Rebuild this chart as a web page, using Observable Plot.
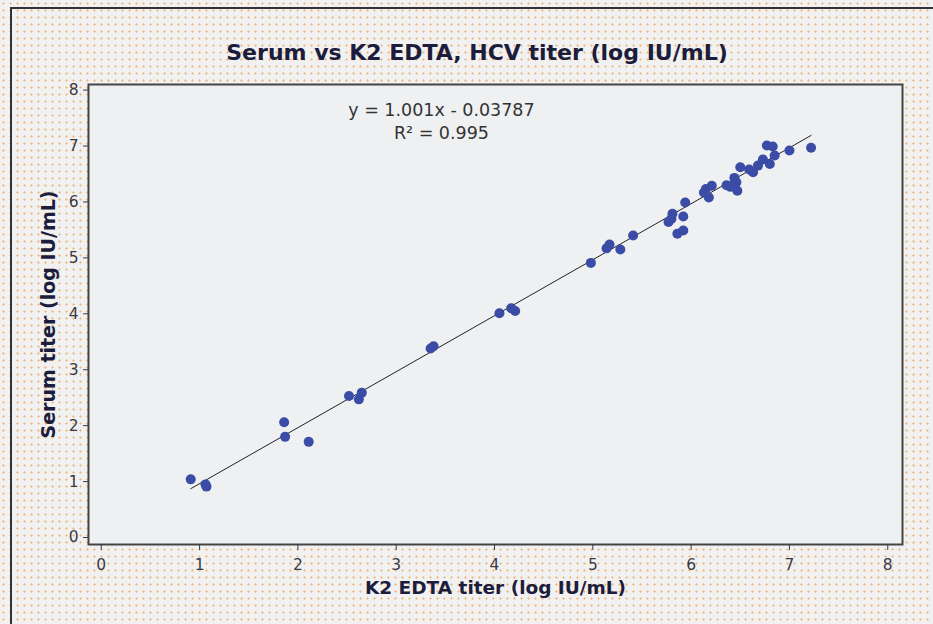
<!DOCTYPE html>
<html><head><meta charset="utf-8">
<script src="https://cdn.jsdelivr.net/npm/d3@7"></script>
<script src="https://cdn.jsdelivr.net/npm/@observablehq/plot@0.6"></script>
<style>
html,body{margin:0;padding:0;overflow:hidden;}
body{width:933px;height:624px;position:relative;background-color:#f1f1f2;
background-image:radial-gradient(circle, #efbd86 0.9px, transparent 1.4px);background-size:7px 7px;font-family:"DejaVu Sans",sans-serif;}
#border{position:absolute;left:10px;top:7px;width:923px;height:617px;border-left:2px solid #333;border-top:2px solid #333;box-sizing:border-box;}
#title{position:absolute;left:0;top:41px;width:954px;text-align:center;font:bold 22px "DejaVu Sans";color:#1c1c3c;line-height:24px;}
#chart{position:absolute;left:0;top:0;width:933px;height:624px;overflow:hidden;}
</style></head>
<body>
<div id="border"></div>
<div id="title">Serum vs K2 EDTA, HCV titer (log IU/mL)</div>
<div id="chart"></div>
<script>
const titleText = "Serum vs K2 EDTA, HCV titer (log IU/mL)";
const xLabel = "K2 EDTA titer (log IU/mL)";
const yLabel = "Serum titer (log IU/mL)";
const xTicks = [0,1,2,3,4,5,6,7,8];
const yTicks = [0,1,2,3,4,5,6,7,8];
// K2 EDTA titer (x) and Serum titer (y), log IU/mL
const k2edta = [0.91,1.06,1.07,1.86,1.87,2.11,2.52,2.62,2.65,3.35,3.38,4.05,4.17,4.21,4.98,5.14,5.17,5.28,5.41,
  5.77,5.80,5.81,5.86,5.92,5.92,5.94,6.13,6.15,6.18,6.21,6.36,6.40,6.44,6.46,6.47,6.50,6.59,6.63,6.68,6.73,6.77,6.80,6.83,6.85,7.00,7.22];
const serum  = [1.04,0.95,0.91,2.06,1.80,1.71,2.53,2.47,2.59,3.38,3.42,4.01,4.10,4.05,4.91,5.17,5.24,5.15,5.40,
  5.64,5.70,5.79,5.43,5.49,5.74,5.99,6.17,6.23,6.08,6.29,6.30,6.27,6.43,6.35,6.20,6.62,6.58,6.53,6.65,6.76,7.01,6.68,6.99,6.83,6.92,6.97];
const slope = 1.001, intercept = -0.03787;
const eqText = ["y = 1.001x - 0.03787", "R\u00b2 = 0.995"];
const eqX = 3.46, eqY = [7.64, 7.23];

const points = k2edta.map((x,i)=>({x, y: serum[i]}));
const [x0, x1] = d3.extent(k2edta);
const fit = [x0, x1].map(x=>({x, y: slope*x + intercept}));
const eq = eqText.map((t,i)=>({t, x: eqX, y: eqY[i]}));

const plot = Plot.plot({
  width: 933, height: 624,
  marginLeft: 88, marginRight: 31, marginTop: 84, marginBottom: 80,
  style: {background: "transparent", fontFamily: "DejaVu Sans", fontSize: "15px", color: "#333"},
  x: {domain: [-0.13, 8.15]},
  y: {domain: [-0.125, 8.1]},
  marks: [
    Plot.frame({fill: "#eff0f2", stroke: null}),
    Plot.line(fit, {x: "x", y: "y", stroke: "#222", strokeWidth: 1}),
    Plot.dot(points, {x: "x", y: "y", r: 5, fill: "#3a4ca6", stroke: null}),
    Plot.frame({stroke: "#444", strokeWidth: 2}),
    Plot.axisX(xTicks, {tickSize: 6, tickPadding: 8, label: null, tickFormat: d => String(d), color: "#3a3a44", fontSize: 15.5}),
    Plot.axisY(yTicks, {tickSize: 5, tickPadding: 5, label: null, tickFormat: d => String(d), color: "#3a3a44", fontSize: 15.5}),
    Plot.text(eq, {x: "x", y: "y", text: "t", fontSize: 17.5, fill: "#333"}),
    Plot.text([xLabel], {frameAnchor: "bottom", dy: 49, fontSize: 18.5, fontWeight: "bold", fill: "#1c1c3c"}),
    Plot.text([yLabel], {frameAnchor: "left", dx: -40, rotate: -90, textAnchor: "middle", fontSize: 19, fontWeight: "bold", fill: "#1c1c3c"})
  ]
});
document.getElementById("chart").append(plot);
</script>
</body></html>
